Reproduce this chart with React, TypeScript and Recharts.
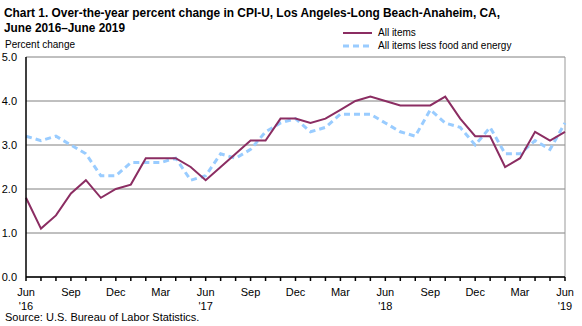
import React from "react";
import { LineChart, Line, XAxis, YAxis, CartesianGrid, ReferenceLine } from "recharts";

const months = [
  "Jun 16","Jul 16","Aug 16","Sep 16","Oct 16","Nov 16","Dec 16","Jan 17","Feb 17","Mar 17","Apr 17","May 17",
  "Jun 17","Jul 17","Aug 17","Sep 17","Oct 17","Nov 17","Dec 17","Jan 18","Feb 18","Mar 18","Apr 18","May 18",
  "Jun 18","Jul 18","Aug 18","Sep 18","Oct 18","Nov 18","Dec 18","Jan 19","Feb 19","Mar 19","Apr 19","May 19","Jun 19",
];
const allItems = [
  1.8, 1.1, 1.4, 1.9, 2.2, 1.8, 2.0, 2.1, 2.7, 2.7, 2.7, 2.5,
  2.2, 2.5, 2.8, 3.1, 3.1, 3.6, 3.6, 3.5, 3.6, 3.8, 4.0, 4.1,
  4.0, 3.9, 3.9, 3.9, 4.1, 3.6, 3.2, 3.2, 2.5, 2.7, 3.3, 3.1, 3.3,
];
const lessFoodEnergy = [
  3.2, 3.1, 3.2, 3.0, 2.8, 2.3, 2.3, 2.6, 2.6, 2.6, 2.7, 2.2,
  2.3, 2.8, 2.7, 2.9, 3.3, 3.5, 3.6, 3.3, 3.4, 3.7, 3.7, 3.7,
  3.5, 3.3, 3.2, 3.8, 3.5, 3.4, 3.0, 3.4, 2.8, 2.8, 3.1, 2.9, 3.5,
];
const yTicks = [0, 1, 2, 3, 4, 5];

const data = months.map((m, i) => ({ month: m, all: allItems[i], core: lessFoodEnergy[i] }));

const FONT = "Arial, 'Liberation Sans', sans-serif";
const PURPLE = "#8B2D62";
const BLUE = "#99CCFF";

const XTick = (props: any) => {
  const { x, y, payload, index } = props;
  if (index % 3 !== 0) return null;
  const [mon, yr] = String(payload.value).split(" ");
  return (
    <g>
      <text x={x} y={y + 13} textAnchor="middle" fontSize={11} fontFamily={FONT} fill="#000">{mon}</text>
      {mon === "Jun" && (
        <text x={x} y={y + 27} textAnchor="middle" fontSize={11} fontFamily={FONT} fill="#000">{"'" + yr}</text>
      )}
    </g>
  );
};

export default function App() {
  return (
    <div style={{ position: "absolute", left: 0, top: 0, width: 582, height: 326, background: "#fff", fontFamily: FONT }}>
      <div style={{ position: "absolute", left: 0, top: 0 }}>
        <LineChart width={582} height={326} data={data} margin={{ top: 57, right: 17, bottom: 0, left: 0 }}>
          <CartesianGrid vertical={false} stroke="#808080" strokeWidth={1} />
          <ReferenceLine x="Jun 19" stroke="#999999" strokeWidth={1} />
          <XAxis
            dataKey="month"
            interval={0}
            height={49}
            tick={<XTick />}
            tickSize={4}
            axisLine={{ stroke: "#000", strokeWidth: 1.5 }}
            tickLine={{ stroke: "#000", strokeWidth: 1.5 }}
          />
          <YAxis
            domain={[0, 5]}
            ticks={yTicks}
            width={26}
            tickFormatter={(v: number) => v.toFixed(1)}
            tick={{ fontSize: 11, fontFamily: FONT, fill: "#000" }}
            tickLine={false}
            tickSize={0}
            tickMargin={9}
            axisLine={{ stroke: "#000", strokeWidth: 1.5 }}
          />
          <Line dataKey="core" stroke={BLUE} strokeWidth={3} strokeDasharray="6 4" dot={false} isAnimationActive={false} />
          <Line dataKey="all" stroke={PURPLE} strokeWidth={2} dot={false} isAnimationActive={false} />
        </LineChart>
      </div>
      <svg style={{ position: "absolute", left: 0, top: 0 }} width={582} height={36}>
        <text x={4} y={17} fontSize={12.5} fontWeight="bold" fontFamily={FONT} fill="#000" textLength={496} lengthAdjust="spacingAndGlyphs">
          Chart 1. Over-the-year percent change in CPI-U, Los Angeles-Long Beach-Anaheim, CA,
        </text>
        <text x={4} y={32} fontSize={12.5} fontWeight="bold" fontFamily={FONT} fill="#000" textLength={121} lengthAdjust="spacingAndGlyphs">
          June 2016–June 2019
        </text>
      </svg>
      <div style={{ position: "absolute", left: 5, top: 39, fontSize: 10, lineHeight: "12px", color: "#000" }}>Percent change</div>
      <div style={{ position: "absolute", left: 343, top: 26, fontSize: 10, color: "#000" }}>
        <div style={{ display: "flex", alignItems: "center", height: 13 }}>
          <svg width={30} height={6}><line x1={0} y1={3} x2={29} y2={3} stroke={PURPLE} strokeWidth={2} /></svg>
          <span style={{ marginLeft: 5 }}>All items</span>
        </div>
        <div style={{ display: "flex", alignItems: "center", height: 13 }}>
          <svg width={30} height={6}><line x1={0} y1={3} x2={29} y2={3} stroke={BLUE} strokeWidth={3} strokeDasharray="6 4" /></svg>
          <span style={{ marginLeft: 5 }}>All items less food and energy</span>
        </div>
      </div>
      <div style={{ position: "absolute", left: 5, top: 311, fontSize: 11, lineHeight: "12px", color: "#000" }}>Source: U.S. Bureau of Labor Statistics.</div>
    </div>
  );
}
